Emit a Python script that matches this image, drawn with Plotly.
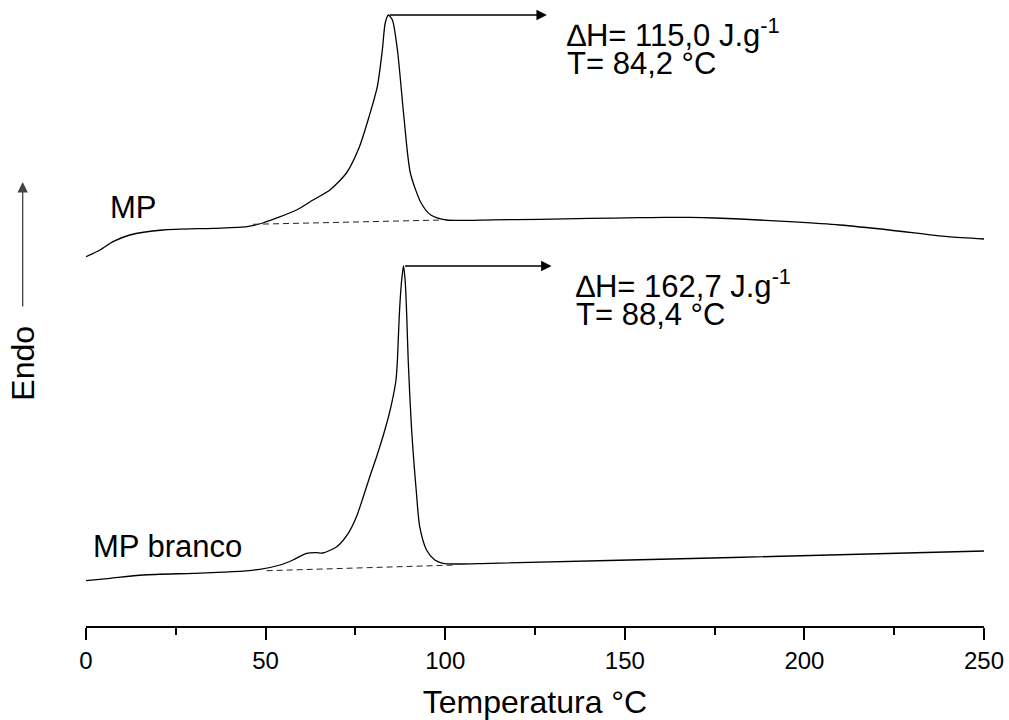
import plotly.graph_objects as go

# DSC heating curves (temperature in °C, heat flow in arbitrary units, curves offset)
temp_mp = [0, 3.9, 7.5, 12.2, 21.4, 35.3, 44.8, 49.2, 58.6, 63.2, 67.9, 72.5,
           76.1, 78.8, 81.1, 82.5, 83.3, 84.2, 85.3, 86.7, 88.5, 90.3, 93.3,
           96.0, 100.4, 113.0, 126.3, 140.0, 154.1, 161.0, 168.1, 175.0, 182.0,
           195.9, 209.8, 223.7, 239.8, 250]
hf_mp = [36.93, 37.6, 38.43, 39.1, 39.6, 39.77, 39.93, 40.3, 41.6, 42.6, 43.6, 45.3,
         47.9, 50.93, 53.93, 57.6, 60.3, 61.1, 60.6, 57.6, 50.93, 45.3, 42.3,
         41.1, 40.6, 40.62, 40.67, 40.76, 40.83, 40.86, 40.86, 40.8, 40.7,
         40.43, 40.1, 39.6, 38.93, 38.7]

temp_branco = [0, 6.7, 15.9, 29.8, 40.9, 48.4, 54.0, 57.6, 61.4, 64.2, 65.9, 69.8,
               73.0, 75.3, 77.2, 79.0, 80.9, 83.2, 85.1, 86.3, 86.7, 87.2, 87.8,
               88.4, 88.9, 89.3, 89.7, 90.6, 92.0, 92.9, 94.8, 97.1, 99.4, 103.1,
               112.4, 180.0, 250]
hf_branco = [4.53, 4.77, 5.1, 5.27, 5.43, 5.67, 6.1, 6.6, 7.27, 7.33, 7.3, 7.93,
             9.27, 10.93, 12.93, 14.93, 16.93, 19.6, 22.27, 24.6, 26.6, 30.93, 34.27,
             36.0, 34.27, 30.93, 26.6, 19.93, 13.27, 9.93, 7.6, 6.6, 6.27, 6.2,
             6.27, 6.85, 7.5]

# Integration baselines under the melting peaks
base_mp_t = [46.5, 99.3]
base_mp_hf = [40.17, 40.6]
base_branco_t = [50.3, 103.1]
base_branco_hf = [5.53, 6.1]

# Melting results
sample_names = ["MP", "MP branco"]
peak_temps = [84.2, 88.4]
enthalpies = [115.0, 162.7]

FONT = "Arial, Liberation Sans, sans-serif"
LABEL_SIZE = 31


def br(v):
    return f"{v:.1f}".replace(".", ",")


fig = go.Figure()

for t, hf in [(temp_mp, hf_mp), (temp_branco, hf_branco)]:
    fig.add_trace(go.Scatter(x=t, y=hf, mode="lines",
                             line=dict(color="black", width=1.3, shape="spline", smoothing=0.7),
                             showlegend=False, hoverinfo="skip"))

for t, hf in [(base_mp_t, base_mp_hf), (base_branco_t, base_branco_hf)]:
    fig.add_trace(go.Scatter(x=t, y=hf, mode="lines",
                             line=dict(color="#222222", width=1, dash="6px,4px"),
                             showlegend=False, hoverinfo="skip"))

# peak arrows and result labels
arrow_end = [128.3, 129.6]
text_x = [133.4, 135.9]
curves = [(temp_mp, hf_mp), (temp_branco, hf_branco)]
for i in range(2):
    t, hf = curves[i]
    ypk = hf[t.index(peak_temps[i])]
    fig.add_annotation(x=arrow_end[i], y=ypk, ax=peak_temps[i], ay=ypk,
                       xref="x", yref="y", axref="x", ayref="y",
                       showarrow=True, arrowhead=2, arrowsize=1.6, arrowwidth=1.3,
                       arrowcolor="black", text="")
    fig.add_annotation(x=text_x[i], y=ypk - 1.75, xref="x", yref="y",
                       text=f"∆H= {br(enthalpies[i])} J.g<sup>-1</sup>",
                       showarrow=False, xanchor="left", yanchor="middle",
                       font=dict(family=FONT, size=LABEL_SIZE, color="black"))
    fig.add_annotation(x=text_x[i], y=ypk - 4.8, xref="x", yref="y",
                       text=f"T= {br(peak_temps[i])} °C",
                       showarrow=False, xanchor="left", yanchor="middle",
                       font=dict(family=FONT, size=LABEL_SIZE, color="black"))

# curve names
fig.add_annotation(x=6.0, y=41.9, xref="x", yref="y", text=sample_names[0],
                   showarrow=False, xanchor="left", yanchor="middle",
                   font=dict(family=FONT, size=LABEL_SIZE, color="black"))
fig.add_annotation(x=1.3, y=7.93, xref="x", yref="y", text=sample_names[1],
                   showarrow=False, xanchor="left", yanchor="middle",
                   font=dict(family=FONT, size=LABEL_SIZE, color="black"))

# Endo direction indicator
fig.add_annotation(x=-0.0705, y=44.4, ax=0, ay=126,
                   xref="paper", yref="y",
                   showarrow=True, arrowhead=2, arrowsize=1.6, arrowwidth=1.3,
                   arrowcolor="#444444", text="")
fig.add_annotation(x=-0.0705, y=26.3, xref="paper", yref="y", text="Endo",
                   textangle=-90, showarrow=False, xanchor="center", yanchor="middle",
                   font=dict(family=FONT, size=32, color="black"))

fig.update_xaxes(range=[0, 250], dtick=50, tick0=0,
                 showline=True, linecolor="black", linewidth=2,
                 ticks="outside", ticklen=12, tickwidth=2, tickcolor="black",
                 minor=dict(dtick=25, ticks="outside", ticklen=7, tickwidth=2, tickcolor="black"),
                 showgrid=False, zeroline=False,
                 tickfont=dict(family=FONT, size=24, color="black"),
                 title=dict(text="Temperatura °C", standoff=18,
                            font=dict(family=FONT, size=32, color="black")))
fig.update_yaxes(range=[0, 62.6], visible=False, showgrid=False, zeroline=False)

fig.update_layout(width=1009, height=720, plot_bgcolor="white", paper_bgcolor="white",
                  margin=dict(l=86, r=25, t=0, b=94), showlegend=False)

fig.write_html("out.html")
